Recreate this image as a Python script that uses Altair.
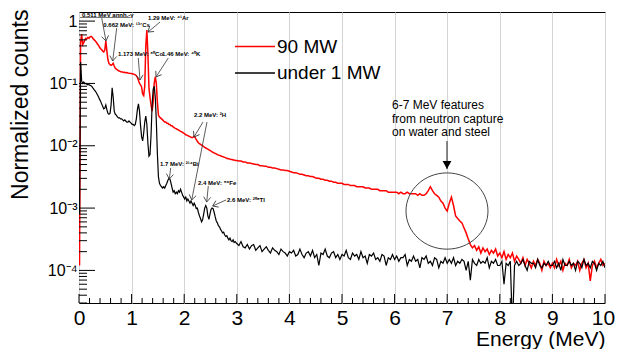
import math
import altair as alt
import pandas as pd

# ---------------- data ----------------
low_energy = [round(0.01 + 0.02 * i, 2) for i in range(149)]     # 0.01 .. 2.97 MeV
high_energy = [round(3.0 + 0.04 * i, 2) for i in range(176)]     # 3.00 .. 10.00 MeV

black_low = [
    8e-4, 0.22, 0.11, 0.10, 0.105, 0.099, 0.10, 0.097, 0.095, 0.096,
    0.093, 0.092, 0.088, 0.083, 0.079, 0.075, 0.071, 0.066, 0.061, 0.056,
    0.052, 0.047, 0.043, 0.039, 0.040, 0.045, 0.038, 0.033, 0.032, 0.033,
    0.045, 0.085, 0.060, 0.036, 0.032, 0.031, 0.029, 0.028, 0.028, 0.027,
    0.027, 0.026, 0.025, 0.026, 0.025, 0.024, 0.024, 0.025, 0.024, 0.023,
    0.022, 0.022, 0.021, 0.022, 0.027, 0.038, 0.047, 0.036, 0.021, 0.014,
    0.012, 0.016, 0.024, 0.030, 0.022, 0.011, 0.0068, 0.0072, 0.015, 0.045,
    0.080, 0.090, 0.060, 0.025, 0.0075, 0.0032, 0.0025, 0.0023, 0.0022, 0.0021,
    0.0022, 0.0021, 0.0023, 0.0025, 0.0028, 0.0030, 0.0029, 0.0025, 0.0021, 0.0018,
    0.0019, 0.0017, 0.0018, 0.0017, 0.0019, 0.0018, 0.0020, 0.0018, 0.0016, 0.0015,
    0.0014, 0.0015, 0.0013, 0.0014, 0.0013, 0.0012, 0.0013, 0.0012, 0.0011, 0.0012,
    0.0011, 0.00098, 0.0010, 0.00085, 0.00075, 0.00068, 0.00060, 0.00065, 0.00080, 0.0010,
    0.0011, 0.0010, 0.00075, 0.00066, 0.00080, 0.00095, 0.0010, 0.00098, 0.00085, 0.00072,
    0.00062, 0.00058, 0.00052, 0.00050, 0.00046, 0.00043, 0.00040, 0.00041, 0.00037, 0.00035,
    0.00036, 0.00033, 0.00031, 0.00033, 0.00030, 0.00029, 0.00031, 0.00028, 0.00029,
]

red_low = [
    1.2e-4, 0.45, 0.62, 0.42, 0.45, 0.50, 0.53, 0.52, 0.55, 0.53,
    0.56, 0.57, 0.55, 0.52, 0.50, 0.48, 0.46, 0.43, 0.41, 0.38,
    0.36, 0.35, 0.33, 0.32, 0.34, 0.48, 0.33, 0.24, 0.21, 0.20,
    0.195, 0.20, 0.21, 0.19, 0.175, 0.17, 0.165, 0.16, 0.158, 0.155,
    0.153, 0.152, 0.150, 0.151, 0.148, 0.149, 0.147, 0.146, 0.145, 0.144,
    0.143, 0.142, 0.140, 0.137, 0.133, 0.125, 0.112, 0.100, 0.095, 0.088,
    0.068, 0.064, 0.09, 0.40, 0.72, 0.30, 0.085, 0.060, 0.045, 0.036,
    0.050, 0.100, 0.127, 0.100, 0.050, 0.031, 0.029, 0.028, 0.027, 0.026,
    0.025, 0.024, 0.024, 0.023, 0.023, 0.022, 0.022, 0.021, 0.021, 0.020,
    0.0195, 0.019, 0.0188, 0.0182, 0.018, 0.0175, 0.017, 0.0168, 0.0163, 0.016,
    0.0155, 0.015, 0.0148, 0.0145, 0.0142, 0.014, 0.0137, 0.0135, 0.0138, 0.0142,
    0.0135, 0.0125, 0.0118, 0.0112, 0.0108, 0.0105, 0.0102, 0.0100, 0.0097, 0.0094,
    0.0092, 0.0090, 0.0088, 0.0086, 0.0084, 0.0082, 0.0080, 0.0078, 0.0077, 0.0075,
    0.0074, 0.0072, 0.0071, 0.0070, 0.0069, 0.0068, 0.0067, 0.0066, 0.0065, 0.0064,
    0.0063, 0.0062, 0.0062, 0.0061, 0.0060, 0.0060, 0.0059, 0.0059, 0.0058,
]

black_high = [
    # 3.00 - 3.96
    0.00027, 0.00025, 0.00029, 0.00024, 0.00023, 0.00026, 0.00022, 0.00025, 0.00026, 0.00021,
    0.00023, 0.00025, 0.00020, 0.00022, 0.00024, 0.00021, 0.00019, 0.00023, 0.00021, 0.00020,
    0.00018, 0.00022, 0.00020, 0.00019, 0.00017,
    # 4.00 - 4.96
    0.00020, 0.00019, 0.00021, 0.00017, 0.00018, 0.00022, 0.00018, 0.00016, 0.00019, 0.00020,
    0.00017, 0.00021, 0.00016, 0.00018, 0.00012, 0.00019, 0.00018, 0.00022, 0.00017, 0.00016,
    0.00019, 0.00020, 0.00016, 0.00018, 0.00015,
    # 5.00 - 5.96
    0.00018, 0.00017, 0.00021, 0.00016, 0.00015, 0.00019, 0.00017, 0.00018, 0.00015, 0.00020,
    0.00016, 0.00017, 0.00013, 0.00018, 0.00017, 0.00019, 0.00015, 0.00016, 0.00014, 0.00018,
    0.00017, 0.00012, 0.00016, 0.00015, 0.00018,
    # 6.00 - 6.96
    0.00015, 0.00017, 0.00014, 0.00016, 0.00016, 0.00018, 0.00012, 0.00015, 0.00014, 0.00017,
    0.00014, 0.00015, 0.00011, 0.00016, 0.00015, 0.00017, 0.00013, 0.00014, 0.00012, 0.00016,
    0.00015, 0.00011, 0.00014, 0.00013, 0.00016,
    # 7.00 - 7.96
    0.00013, 0.00015, 0.00013, 0.00016, 0.00012, 0.00014, 0.00013, 0.00015, 0.00014, 0.00010,
    0.00014, 0.000070, 0.00015, 0.00013, 0.00012, 0.00015, 0.00013, 0.00014, 0.00013, 0.00016,
    0.00011, 0.00014, 0.00013, 0.00015, 0.00012,
    # 8.00 - 8.96
    0.00012, 0.00014, 0.000060, 0.00013, 0.00012, 0.00014, 0.000012, 0.00012, 0.00014, 0.00012,
    0.00013, 0.00015, 0.00012, 0.00010, 0.00014, 0.00013, 0.00013, 0.00011, 0.00015, 0.00012,
    0.00011, 0.00013, 0.00012, 0.00014, 0.00012,
    # 9.00 - 10.00
    0.00012, 0.00014, 0.00011, 0.00013, 0.00010, 0.00015, 0.00012, 0.00012, 0.00014, 0.00012,
    0.00013, 0.00010, 0.00014, 0.00013, 0.00011, 0.00015, 0.00012, 0.00013, 0.00011, 0.00014,
    0.00013, 0.00010, 0.00013, 0.00012, 0.00014, 0.00011,
]

red_high = [
    # 3.00 - 3.96
    0.0058, 0.0057, 0.0057, 0.0055, 0.0055, 0.0053, 0.0053, 0.0052, 0.0051, 0.0050,
    0.0050, 0.0048, 0.0048, 0.0047, 0.0047, 0.0045, 0.0045, 0.0044, 0.0044, 0.0043,
    0.0042, 0.0041, 0.0041, 0.0040, 0.0040,
    # 4.00 - 4.96
    0.0039, 0.0038, 0.0037, 0.0037, 0.0036, 0.0035, 0.0035, 0.0034, 0.0033, 0.0033,
    0.0032, 0.0032, 0.0031, 0.0030, 0.0030, 0.0029, 0.0029, 0.0028, 0.0028, 0.0027,
    0.0027, 0.0026, 0.0026, 0.0025, 0.0025,
    # 5.00 - 5.96
    0.0025, 0.0024, 0.0024, 0.0024, 0.0023, 0.0023, 0.0023, 0.0022, 0.0022, 0.0022,
    0.0022, 0.0021, 0.0021, 0.0021, 0.0020, 0.0020, 0.0020, 0.0020, 0.0019, 0.0019,
    0.0019, 0.0019, 0.0018, 0.0018, 0.0018,
    # 6.00 - 6.96
    0.0018, 0.0018, 0.0017, 0.0018, 0.0017, 0.0017, 0.0018, 0.0017, 0.0017, 0.0017,
    0.0017, 0.0016, 0.0017, 0.0016, 0.0016, 0.0017, 0.0019, 0.0022, 0.0019, 0.0017,
    0.0016, 0.0015, 0.0013, 0.0012, 0.0010,
    # 7.00 - 7.96
    0.00090, 0.0012, 0.0015, 0.0011, 0.00075, 0.00068, 0.00062, 0.00058, 0.00048, 0.00040,
    0.00032, 0.00026, 0.00023, 0.00025, 0.00021, 0.00024, 0.00019, 0.00023, 0.00020, 0.00022,
    0.00018, 0.00021, 0.00019, 0.00022, 0.00017,
    # 8.00 - 8.96
    0.00019, 0.00016, 0.00020, 0.00015, 0.00018, 0.00016, 0.00019, 0.00014, 0.00017, 0.00015,
    0.00013, 0.00016, 0.00012, 0.00015, 0.00013, 0.00011, 0.00014, 0.00012, 0.00015, 0.00013,
    0.00010, 0.00014, 0.00012, 0.00013, 0.00011,
    # 9.00 - 10.00
    0.00013, 0.00011, 0.00015, 0.00012, 0.00014, 0.00010, 0.00013, 0.00012, 0.00015, 0.00011,
    0.00013, 0.00012, 0.00014, 0.00010, 0.00013, 0.00015, 0.00011, 0.00013, 0.000068, 0.00012,
    0.00014, 0.00011, 0.00013, 0.00015, 0.00012, 0.00013,
]

series_names = ["90 MW", "under 1 MW"]
series_colors = ["#ff0000", "#000000"]

# peak annotations (data coordinates)
peak_labels = ["0.511 MeV annh.-\u03b3", "0.662 MeV: \u00b9\u00b3\u2077Cs", "1.29 MeV: \u2074\u00b9Ar",
               "1.173 MeV: \u2076\u2070Co", "1.46 MeV: \u2074\u2070K", "2.2 MeV: \u00b2H",
               "1.7 MeV: \u00b2\u00b9\u2074Bi", "2.4 MeV: \u2075\u2076Fe", "2.6 MeV: \u00b2\u2070\u2078Tl"]
label_E = [0.057, 0.462, 1.312, 0.741, 1.578, 2.186, 1.54, 2.262, 2.814]
label_v = [1.253, 0.866, 1.12, 0.296, 0.296, 0.0311, 0.0051, 0.00252, 0.00135]

arrow_E1 = [0.432, 0.717, 1.54, 1.127, 1.698, 2.357, 2.433, 1.743, 2.458, 2.795]
arrow_v1 = [1.12, 0.775, 0.967, 0.256, 0.256, 0.0240, 0.0240, 0.0044, 0.00226, 0.00135]
arrow_E2 = [0.513, 0.641, 1.312, 1.16, 1.464, 2.186, 2.143, 1.717, 2.428, 2.542]
arrow_v2 = [0.48, 0.229, 0.668, 0.1135, 0.127, 0.0138, 0.00135, 0.00292, 0.00125, 0.00108]

note_lines = ["6-7 MeV features", "from neutron capture", "on water and steel"]
note_E = 5.95
note_v = [0.0451, 0.02735, 0.01663]
note_arrow_E = 6.996
note_arrow_v = [0.0119, 0.00424]
ellipse_E = 6.996
ellipse_v = 0.000897

legend_E = [2.966, 3.726, 3.764]
legend_v = [0.39, 0.147]

y_major = [1e-4, 1e-3, 1e-2, 1e-1, 1.0]
x_major = list(range(11))

# ---------------- geometry ----------------
W, H = 526, 291
YMIN, YMAX = 3e-5, 1.4
FONT = "Liberation Sans"

xscale = alt.Scale(domain=[0, 10], nice=False, zero=False)
yscale = alt.Scale(type="log", domain=[YMIN, YMAX], nice=False)


def px(e):
    return e / 10.0 * W


def py(v):
    return (math.log10(YMAX) - math.log10(v)) / (math.log10(YMAX) - math.log10(YMIN)) * H


# ---------------- tables ----------------
spec = pd.DataFrame({
    "E": low_energy + high_energy,
    "red": red_low + red_high,
    "black": black_low + black_high,
})

y_minor = []
for k in range(-5, 1):
    for m in range(2, 10):
        val = m * 10.0 ** k
        if YMIN <= val <= YMAX:
            y_minor.append(val)
x_minor = [round(0.2 * i, 1) for i in range(51) if i % 5 != 0]

arrows = pd.DataFrame({"E1": arrow_E1, "v1": arrow_v1, "E2": arrow_E2, "v2": arrow_v2})
arrows["ang"] = [
    math.degrees(math.atan2(py(b) - py(a), px(d) - px(c))) % 360
    for a, b, c, d in zip(arrows.v1, arrows.v2, arrows.E1, arrows.E2)
]
labels = pd.DataFrame({"E": label_E, "v": label_v, "t": peak_labels})
notes = pd.DataFrame({"E": [note_E] * 3, "v": note_v, "t": note_lines})

xaxis = alt.Axis(values=x_major, labelFontSize=21, labelFont=FONT, labelColor="black",
                 labelFlush=False, labelPadding=4, ticks=False, domain=False,
                 labelOffset={"condition": {"test": "datum.value == 10", "value": -2}, "value": 0},
                 grid=True, gridColor="#d4d4d4", gridWidth=1,
                 title="Energy (MeV)", titleFont=FONT, titleFontSize=21,
                 titleFontWeight="normal", titleColor="black",
                 titleAlign="right", titleBaseline="alphabetic", titleX=W, titleY=42)
yaxis = alt.Axis(values=y_major, labelFontSize=16, labelFont=FONT, labelColor="black",
                 labelPadding=2, ticks=False, domain=False, grid=False,
                 labelExpr=("datum.value >= 0.5 ? '1' : datum.value >= 0.05 ? '10\u207b\u00b9' : "
                            "datum.value >= 0.005 ? '10\u207b\u00b2' : datum.value >= 0.0005 ? "
                            "'10\u207b\u00b3' : '10\u207b\u2074'"),
                 title="Normalized counts", titleFont=FONT, titleFontSize=23,
                 titleFontWeight="normal", titleColor="black", titleAngle=270,
                 titleAlign="right", titleBaseline="middle", titleX=-59, titleY=-3)


def X(field):
    return alt.X(field, scale=xscale, axis=xaxis)


def Y(field):
    return alt.Y(field, scale=yscale, axis=yaxis)


base = alt.Chart(spec)
red_line = base.mark_line(color=series_colors[0], strokeWidth=1.5, clip=True).encode(
    x=X("E:Q"), y=Y("red:Q"))
black_line = base.mark_line(color=series_colors[1], strokeWidth=1.2, clip=True).encode(
    x=X("E:Q"), y=Y("black:Q"))

# ROOT-style inward ticks
ytick_major = alt.Chart(pd.DataFrame({"v": y_major})).mark_rule(color="black", strokeWidth=1).encode(
    y=Y("v:Q"), x=alt.value(0), x2=alt.value(16))
ytick_minor = alt.Chart(pd.DataFrame({"v": y_minor})).mark_rule(color="black", strokeWidth=1).encode(
    y=Y("v:Q"), x=alt.value(0), x2=alt.value(8))
xtick_major = alt.Chart(pd.DataFrame({"E": x_major})).mark_rule(color="black", strokeWidth=1).encode(
    x=X("E:Q"), y=alt.value(H), y2=alt.value(H - 9))
xtick_minor = alt.Chart(pd.DataFrame({"E": x_minor})).mark_rule(color="black", strokeWidth=1).encode(
    x=X("E:Q"), y=alt.value(H), y2=alt.value(H - 5))

# peak annotations
arrow_lines = alt.Chart(arrows).mark_rule(color="#333333", strokeWidth=0.8).encode(
    x=X("E1:Q"), y=Y("v1:Q"), x2="E2:Q", y2="v2:Q")
arrow_heads = alt.Chart(arrows).mark_point(
    shape="M-1,-0.7L0,0L-1,0.7", size=100, filled=False, color="#333333",
    strokeWidth=0.8, opacity=1).encode(
    x=X("E2:Q"), y=Y("v2:Q"), angle=alt.Angle("ang:Q", scale=None))
underline = alt.Chart(pd.DataFrame({"E1": [0.02], "E2": [0.98], "v": [1.142]})).mark_rule(
    color="#555555", strokeWidth=0.8).encode(x=X("E1:Q"), x2="E2:Q", y=Y("v:Q"))
peak_text = alt.Chart(labels).mark_text(align="left", baseline="middle", font=FONT, fontSize=6,
                                        fontWeight="bold", color="black").encode(
    x=X("E:Q"), y=Y("v:Q"), text="t:N")

# neutron capture note
note_text = alt.Chart(notes).mark_text(align="left", baseline="middle", font=FONT, fontSize=12,
                                       color="black").encode(
    x=X("E:Q"), y=Y("v:Q"), text="t:N")
note_arrow = alt.Chart(pd.DataFrame({"E": [note_arrow_E], "v1": [note_arrow_v[0]],
                                     "v2": [note_arrow_v[1]]})).mark_rule(
    color="#222222", strokeWidth=1).encode(x=X("E:Q"), y=Y("v1:Q"), y2="v2:Q")
note_head = alt.Chart(pd.DataFrame({"E": [note_arrow_E], "v": [note_arrow_v[1]]})).mark_point(
    shape="M-1,-0.55L0,0L-1,0.55Z", size=256, filled=True, color="black", angle=90,
    opacity=1).encode(x=X("E:Q"), y=Y("v:Q"))
ellipse = alt.Chart(pd.DataFrame({"E": [ellipse_E], "v": [ellipse_v]})).mark_point(
    shape="M-1,0A1,0.93,0,1,1,1,0A1,0.93,0,1,1,-1,0Z", size=6724, filled=False,
    color="#444444", strokeWidth=1, opacity=1).encode(x=X("E:Q"), y=Y("v:Q"))

# legend
leg = pd.DataFrame({"E1": [legend_E[0]] * 2, "E2": [legend_E[1]] * 2, "Et": [legend_E[2]] * 2,
                    "v": legend_v, "name": series_names, "col": series_colors})
legend_lines = alt.Chart(leg).mark_rule(strokeWidth=1.5).encode(
    x=X("E1:Q"), x2="E2:Q", y=Y("v:Q"), color=alt.Color("col:N", scale=None))
legend_text = alt.Chart(leg).mark_text(align="left", baseline="middle", font=FONT, fontSize=19,
                                       color="black").encode(
    x=X("Et:Q"), y=Y("v:Q"), text="name:N")

chart = alt.layer(
    red_line, black_line,
    ytick_major, ytick_minor, xtick_major, xtick_minor,
    arrow_lines, arrow_heads, underline, peak_text,
    note_text, note_arrow, note_head, ellipse,
    legend_lines, legend_text,
).properties(
    width=W, height=H,
    autosize=alt.AutoSizeParams(type="none"),
    padding={"left": 71, "top": 4, "right": 10, "bottom": 46},
    background="white",
).configure_view(stroke="black", strokeWidth=1)

chart.save("out.html", embed_options={"renderer": "svg", "actions": False})
